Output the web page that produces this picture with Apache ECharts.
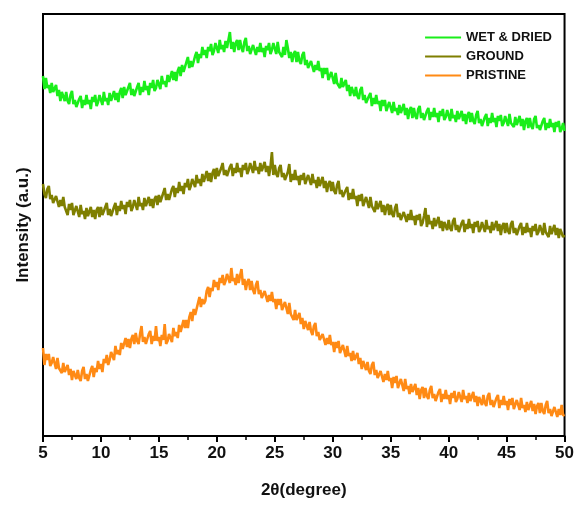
<!DOCTYPE html>
<html><head><meta charset="utf-8">
<script src="https://cdn.jsdelivr.net/npm/echarts@6/dist/echarts.min.js"></script>
<style>html,body{margin:0;padding:0;background:#fff}#c{width:577px;height:506px}</style>
</head><body><div id="c"></div>
<script>
const theta = [
5,5.125,5.25,5.375,5.5,5.625,5.75,5.875,6,6.125,6.25,6.375,6.5,6.625,6.75,6.875,
7,7.125,7.25,7.375,7.5,7.625,7.75,7.875,8,8.125,8.25,8.375,8.5,8.625,8.75,8.875,
9,9.125,9.25,9.375,9.5,9.625,9.75,9.875,10,10.125,10.25,10.375,10.5,10.625,10.75,10.875,
11,11.125,11.25,11.375,11.5,11.625,11.75,11.875,12,12.125,12.25,12.375,12.5,12.625,12.75,12.875,
13,13.125,13.25,13.375,13.5,13.625,13.75,13.875,14,14.125,14.25,14.375,14.5,14.625,14.75,14.875,
15,15.125,15.25,15.375,15.5,15.625,15.75,15.875,16,16.125,16.25,16.375,16.5,16.625,16.75,16.875,
17,17.125,17.25,17.375,17.5,17.625,17.75,17.875,18,18.125,18.25,18.375,18.5,18.625,18.75,18.875,
19,19.125,19.25,19.375,19.5,19.625,19.75,19.875,20,20.125,20.25,20.375,20.5,20.625,20.75,20.875,
21,21.125,21.25,21.375,21.5,21.625,21.75,21.875,22,22.125,22.25,22.375,22.5,22.625,22.75,22.875,
23,23.125,23.25,23.375,23.5,23.625,23.75,23.875,24,24.125,24.25,24.375,24.5,24.625,24.75,24.875,
25,25.125,25.25,25.375,25.5,25.625,25.75,25.875,26,26.125,26.25,26.375,26.5,26.625,26.75,26.875,
27,27.125,27.25,27.375,27.5,27.625,27.75,27.875,28,28.125,28.25,28.375,28.5,28.625,28.75,28.875,
29,29.125,29.25,29.375,29.5,29.625,29.75,29.875,30,30.125,30.25,30.375,30.5,30.625,30.75,30.875,
31,31.125,31.25,31.375,31.5,31.625,31.75,31.875,32,32.125,32.25,32.375,32.5,32.625,32.75,32.875,
33,33.125,33.25,33.375,33.5,33.625,33.75,33.875,34,34.125,34.25,34.375,34.5,34.625,34.75,34.875,
35,35.125,35.25,35.375,35.5,35.625,35.75,35.875,36,36.125,36.25,36.375,36.5,36.625,36.75,36.875,
37,37.125,37.25,37.375,37.5,37.625,37.75,37.875,38,38.125,38.25,38.375,38.5,38.625,38.75,38.875,
39,39.125,39.25,39.375,39.5,39.625,39.75,39.875,40,40.125,40.25,40.375,40.5,40.625,40.75,40.875,
41,41.125,41.25,41.375,41.5,41.625,41.75,41.875,42,42.125,42.25,42.375,42.5,42.625,42.75,42.875,
43,43.125,43.25,43.375,43.5,43.625,43.75,43.875,44,44.125,44.25,44.375,44.5,44.625,44.75,44.875,
45,45.125,45.25,45.375,45.5,45.625,45.75,45.875,46,46.125,46.25,46.375,46.5,46.625,46.75,46.875,
47,47.125,47.25,47.375,47.5,47.625,47.75,47.875,48,48.125,48.25,48.375,48.5,48.625,48.75,48.875,
49,49.125,49.25,49.375,49.5,49.625,49.75,49.875,50];

const wetDried = [
360,347,358,348,351,343,353,344, 344,351,340,346,335,344,346,335,
344,335,332,341,345,332,336,329, 329,337,340,328,336,331,341,332,
336,327,339,334,341,330,334,341, 340,331,344,335,338,331,343,335,
336,345,336,343,334,344,348,338, 349,341,339,349,353,341,347,340,
341,349,353,341,349,344,355,346, 350,341,353,348,356,345,348,356,
355,347,360,352,355,349,361,354, 356,365,356,364,355,365,369,360,
371,364,363,374,379,368,375,369, 371,380,384,373,382,378,389,381,
386,378,389,385,392,381,385,393, 392,383,396,387,391,384,395,388,
389,404,387,394,384,393,396,386, 396,388,384,394,398,385,390,382,
383,391,393,381,389,384,393,384, 388,379,390,386,393,382,386,393,
392,382,394,384,386,379,389,381, 396,388,378,384,374,382,385,374,
384,375,372,381,384,371,376,368, 368,375,377,364,371,366,375,365,
368,358,368,362,368,356,358,364, 362,352,363,353,355,348,358,349,
349,356,345,351,340,349,351,340, 349,340,337,346,349,336,341,333,
333,340,343,330,338,332,341,332, 335,325,336,330,336,325,327,334,
332,323,334,325,328,321,331,323, 324,332,321,328,317,326,329,318,
328,320,317,327,330,318,323,316, 317,325,328,316,324,319,328,319,
323,314,325,320,327,316,319,326, 324,315,327,318,321,314,325,317,
317,325,315,322,312,321,324,314, 323,315,312,321,325,313,317,310,
311,319,322,310,318,313,323,314, 318,309,320,315,321,310,313,320,
319,310,322,313,315,309,319,311, 312,320,310,317,306,315,318,308,
318,310,307,317,320,308,311,306, 307,315,318,306,313,308,317,309,
313,304,314,309,315,304,307,313, 305];

const ground = [
252,242,238,247,250,237,241,233, 233,240,242,229,236,230,239,229,
231,221,232,226,233,221,223,230, 228,219,231,222,225,217,228,220,
221,229,219,226,217,226,229,219, 229,221,219,229,233,221,227,220,
221,229,233,221,230,225,235,227, 231,222,234,229,236,225,229,236,
235,226,239,230,233,226,238,230, 231,239,230,237,228,237,240,231,
241,234,232,243,248,236,242,236, 238,247,250,239,248,243,254,245,
250,242,253,249,257,246,250,257, 257,249,261,253,257,250,262,254,
256,265,255,263,254,263,267,257, 268,260,258,268,273,261,266,260,
261,269,272,260,268,263,273,264, 268,259,271,266,273,262,266,273,
272,263,275,266,269,262,273,265, 266,274,264,270,260,269,284,261,
271,262,259,268,271,259,263,256, 256,264,272,254,262,256,266,256,
260,251,261,256,263,252,254,261, 260,251,262,253,256,248,259,250,
251,259,248,255,244,252,255,245, 254,245,242,251,255,242,246,239,
239,246,249,236,243,237,247,237, 240,230,241,235,242,230,232,239,
237,228,239,230,232,224,235,227, 227,235,224,231,221,229,232,221,
231,222,219,228,232,219,223,216, 216,224,226,214,222,216,226,216,
220,211,221,216,222,210,213,220, 228,209,221,212,215,207,218,210,
211,219,208,215,205,214,216,206, 216,208,205,215,218,206,211,204,
205,213,216,204,212,207,217,208, 212,203,214,209,215,204,207,214,
213,204,216,207,210,203,214,206, 207,215,205,212,201,210,213,203,
213,205,202,212,215,203,208,201, 202,210,213,201,209,203,213,204,
208,199,210,205,212,201,204,211, 210,201,213,204,206,199,210,202,
203,211,201,208,198,207,209,199, 201];

const pristine = [
88,71,82,76,82,70,73,79, 77,67,78,68,70,63,73,64,
64,71,61,67,56,65,67,57, 66,58,55,65,69,57,62,55,
57,66,70,59,68,64,75,67, 72,64,77,73,81,71,76,84,
84,76,90,82,86,81,93,87, 89,98,89,97,88,97,101,92,
103,95,92,102,110,94,99,92, 94,102,105,92,100,95,110,95,
99,90,101,96,112,92,95,102, 102,94,108,100,104,98,111,104,
106,116,108,116,108,119,124,115, 127,121,121,133,139,129,137,132,
135,145,149,139,148,145,156,149, 154,146,158,153,161,151,155,162,
162,153,168,155,158,151,162,153, 154,167,151,157,146,154,157,146,
155,146,142,151,155,142,146,138, 138,145,147,134,141,135,144,134,
137,127,137,131,137,126,128,134, 132,122,133,122,124,116,126,116,
116,123,112,118,107,115,117,106, 114,105,101,110,113,100,104,96,
95,102,104,91,98,92,101,91, 94,84,94,88,95,83,85,91,
89,79,90,80,83,75,85,76, 76,83,72,78,67,75,77,66,
74,65,62,71,74,61,66,58, 58,65,67,54,62,56,65,55,
58,48,59,53,60,48,50,57, 55,45,57,47,50,42,52,44,
44,52,41,48,37,46,49,38, 48,40,37,46,50,38,42,35,
36,44,47,34,42,37,46,37, 41,32,43,38,45,34,37,44,
43,34,46,37,40,33,43,35, 36,44,34,40,30,39,41,31,
41,33,30,40,43,31,36,29, 30,38,41,28,36,31,40,31,
35,26,37,31,38,27,29,36, 35,26,38,28,31,24,34,26,
27,35,25,32,22,30,33,23, 33,25,22,31,35,23,27,20,
21,29,31,19,27,21,31,21, 20];

const xTicks = [5,10,15,20,25,30,35,40,45,50];
const seriesNames = ['WET & DRIED','GROUND','PRISTINE'];
const colors = ['#1aee1a','#7f7f00','#ff8a14'];

const pair = arr => theta.map((t,i)=>[t,arr[i]]);
const chart = echarts.init(document.getElementById('c'), null, {renderer:'canvas'});
const font = 'Arial, "Liberation Sans", sans-serif';
chart.setOption({
  animation:false,
  backgroundColor:'#fff',
  grid:{left:43,right:12,top:14,bottom:70,show:true,borderColor:'#000',borderWidth:2,backgroundColor:'transparent'},
  legend:{
    orient:'vertical', right:20, top:26, itemGap:6,
    icon:'rect', itemWidth:36, itemHeight:2,
    textStyle:{fontFamily:font,fontWeight:'bold',fontSize:13,color:'#111'},
    data:seriesNames
  },
  xAxis:{
    type:'value', min:5, max:50, interval:5,
    name:'2θ(degree)', nameLocation:'middle', nameGap:46,
    nameTextStyle:{fontFamily:font,fontWeight:'bold',fontSize:17,color:'#111'},
    axisLine:{show:true,onZero:false,lineStyle:{color:'#000',width:2}},
    axisTick:{show:true,length:6,inside:false,lineStyle:{color:'#000',width:2}},
    minorTick:{show:true,splitNumber:2,length:4,lineStyle:{color:'#000',width:1.5}},
    axisLabel:{fontFamily:font,fontWeight:'bold',fontSize:17,color:'#111',margin:9,
      formatter:v=>xTicks.includes(v)?String(v):''},
    splitLine:{show:false}
  },
  yAxis:{
    type:'value', min:0, max:422,
    name:'Intensity (a.u.)', nameLocation:'middle', nameGap:11,
    nameTextStyle:{fontFamily:font,fontWeight:'bold',fontSize:17,color:'#111'},
    axisLine:{show:true,lineStyle:{color:'#000',width:2}},
    axisTick:{show:false}, axisLabel:{show:false}, splitLine:{show:false}
  },
  series:[
    {name:seriesNames[0],type:'line',data:pair(wetDried),showSymbol:false,symbol:'none',lineStyle:{color:colors[0],width:2.6},itemStyle:{color:colors[0]}},
    {name:seriesNames[1],type:'line',data:pair(ground),showSymbol:false,symbol:'none',lineStyle:{color:colors[1],width:2.6},itemStyle:{color:colors[1]}},
    {name:seriesNames[2],type:'line',data:pair(pristine),showSymbol:false,symbol:'none',lineStyle:{color:colors[2],width:2.6},itemStyle:{color:colors[2]}}
  ]
});
</script></body></html>
